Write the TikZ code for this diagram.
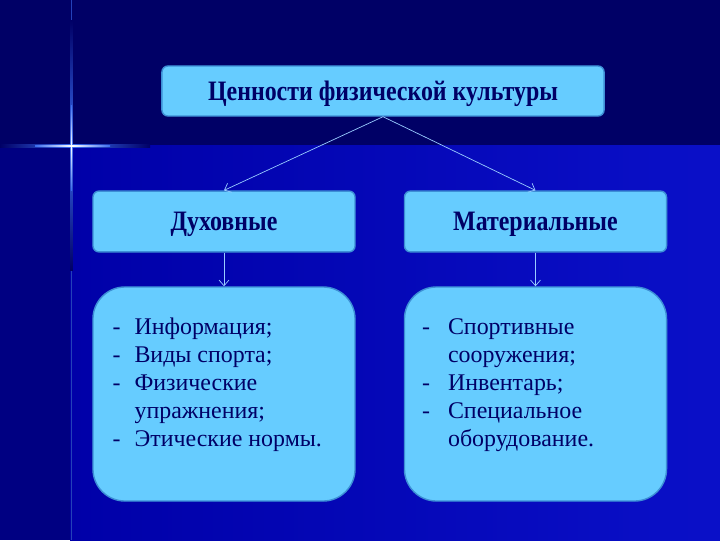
\documentclass[tikz,border=0pt]{standalone}
\usepackage{fontspec}
\setmainfont{Liberation Serif}
\usetikzlibrary{arrows.meta,positioning}

\definecolor{skytop}{HTML}{000066}
\definecolor{skylow}{HTML}{0000A8}
\definecolor{skyright}{HTML}{0A10C8}
\definecolor{skyleft}{HTML}{000082}
\definecolor{glowblue}{HTML}{3A6CF0}
\definecolor{boxfill}{HTML}{66CCFF}
\definecolor{boxline}{HTML}{3D8FD6}
\definecolor{inkblue}{HTML}{000066}
\definecolor{linkblue}{HTML}{99CCFF}

\tikzset{
  headbox/.style={draw=boxline, line width=1pt, fill=boxfill, rounded corners=0.15cm,
    text=inkblue, text depth=0pt, font=\fontsize{20}{24}\selectfont\bfseries},
  listbox/.style={draw=boxline, line width=1pt, fill=boxfill, rounded corners=0.8cm,
    minimum width=6.55cm, minimum height=5.35cm},
  listtext/.style={anchor=north west, inner sep=0pt, text=inkblue, align=left,
    font=\fontsize{17}{19.8}\selectfont},
  link/.style={->, draw=linkblue, line width=0.5pt}
}
\newcommand{\headtext}[1]{\scalebox{0.85}[1]{#1}}

\begin{document}
\begin{tikzpicture}[x=0.025cm, y=-0.025cm, >={Straight Barb[length=4pt,width=7pt]}]
\useasboundingbox (0,0) rectangle (720,540);
% slide background
\fill[skytop] (0,0) rectangle (720,145);
\fill[skyleft] (0,145) rectangle (70,540);
\shade[left color=skylow, right color=skyright] (70,145) rectangle (720,540);
\draw[glowblue!60!skytop, line width=0.6pt] (71.5,0) -- (71.5,540);
% sparkle: blue glow, white core
\shade[left color=skytop, right color=glowblue] (0,144.5) rectangle (72,147.5);
\shade[left color=glowblue, right color=skytop] (72,144.5) rectangle (150,147.5);
\shade[top color=skytop, bottom color=glowblue] (70.2,20) rectangle (72.8,146);
\shade[top color=glowblue, bottom color=skytop] (70.2,146) rectangle (72.8,270);
\shade[left color=glowblue, right color=white] (35,145.4) rectangle (72,146.6);
\shade[left color=white, right color=glowblue] (72,145.4) rectangle (110,146.6);
\shade[top color=glowblue, bottom color=white] (70.9,105) rectangle (72.1,146);
\shade[top color=white, bottom color=glowblue] (70.9,146) rectangle (72.1,190);

% boxes
\node[headbox, minimum width=11.05cm, minimum height=1.25cm] (root) at (383,91)
  {\headtext{Ценности физической культуры}};
\node[headbox, minimum width=6.55cm, minimum height=1.52cm] (spirit) at (224,221.5)
  {\headtext{Духовные}};
\node[headbox, minimum width=6.55cm, minimum height=1.52cm] (matter) at (535.5,221.5)
  {\headtext{Материальные}};
\node[listbox] (spiritlist) at (224,394) {};
\node[listbox] (matterlist) at (535.5,394) {};

\node[listtext] (spirittext) at ([xshift=0.5cm,yshift=-0.72cm]spiritlist.north west)
  {\begin{tabular}{@{}p{0.55cm}@{}l@{}}
   - & Информация;\\
   - & Виды спорта;\\
   - & Физические\\
     & упражнения;\\
   - & Этические нормы.
   \end{tabular}};
\node[listtext] (mattertext) at ([xshift=0.45cm,yshift=-0.72cm]matterlist.north west)
  {\begin{tabular}{@{}p{0.65cm}@{}l@{}}
   - & Спортивные\\
     & сооружения;\\
   - & Инвентарь;\\
   - & Специальное\\
     & оборудование.
   \end{tabular}};

% connectors
\draw[link] (root.south) -- (spirit.north);
\draw[link] (root.south) -- (matter.north);
\draw[link] (spirit.south) -- (spiritlist.north);
\draw[link] (matter.south) -- (matterlist.north);
\end{tikzpicture}
\end{document}
